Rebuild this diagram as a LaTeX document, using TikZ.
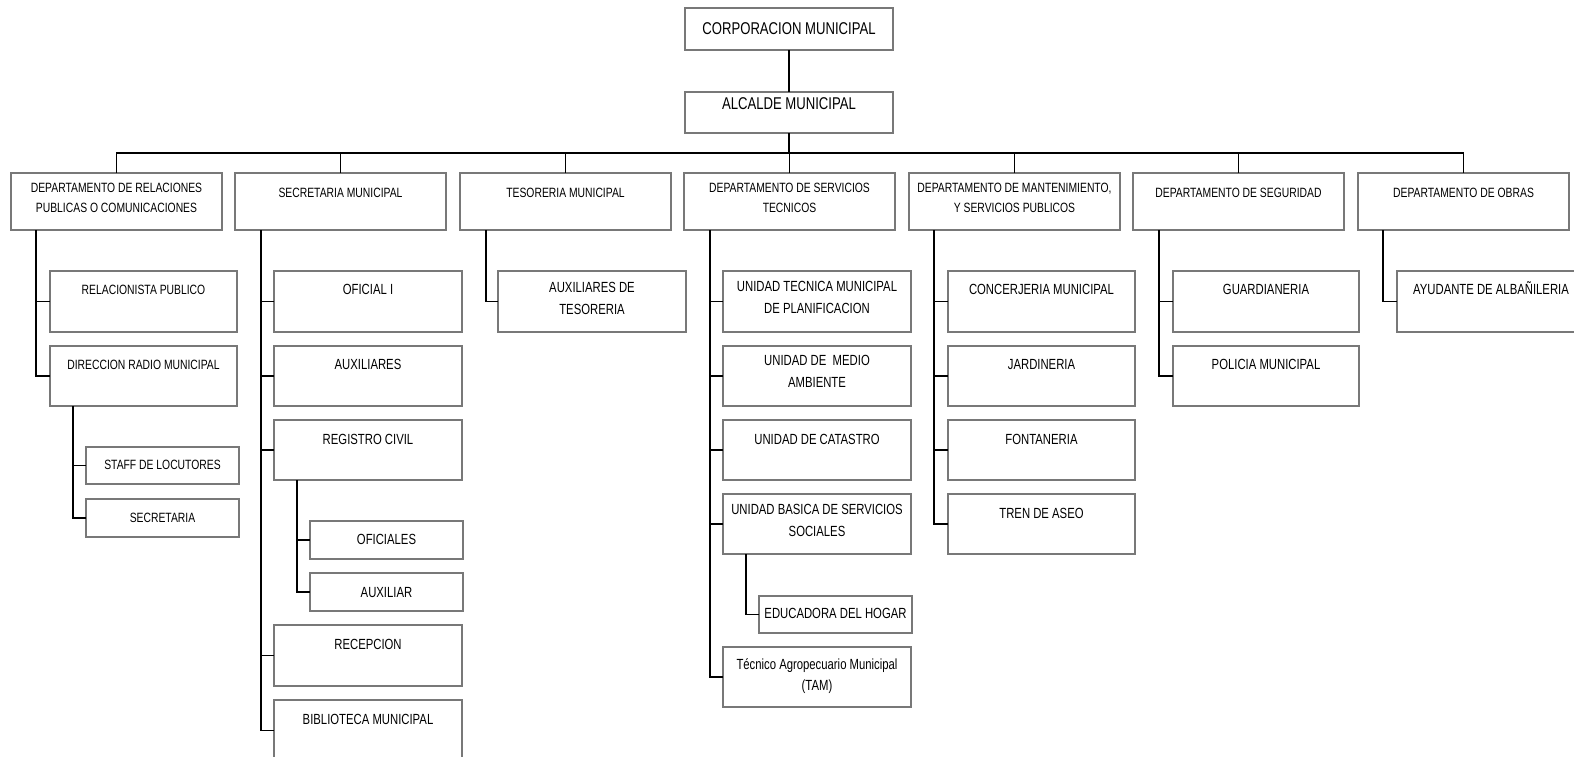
\documentclass[tikz,border=0pt]{standalone}
\usepackage{fontspec}
\setmainfont{Liberation Sans}[FakeStretch=0.77]
\definecolor{boxgray}{RGB}{120,120,120}
\newcommand\fTop{\fontsize{17.1}{20}\selectfont}
\newcommand\fDep{\fontsize{13.5}{20}\selectfont}
\newcommand\fSub{\fontsize{14.75}{21.5}\selectfont}
\tikzset{
  box/.style={draw=boxgray, line width=1.4bp, fill=white, rectangle, inner sep=0pt, outer sep=0pt, anchor=north west},
  conn/.style={draw=black, line width=1.9bp},
  lbl/.style={inner sep=0pt, align=center, anchor=north, text=black, execute at begin node={\rule{0pt}{14bp}}},
}
% \lab{box}{baseline offset from box top}{font}{text}
\newcommand\lab[4]{\node[lbl,font=#3] at ([yshift={(14-#2)*1bp}]#1.north) {#4};}
\newcommand\bx[6]{\node[box, minimum width=#4bp, minimum height=#5bp] (#1) at (#2,#3) {};}
\begin{document}
\begin{tikzpicture}[x=1bp,y=-1bp]
\useasboundingbox (0,0) rectangle (1574,757);
\clip (0,0) rectangle (1574,757);
\fill[white] (0,0) rectangle (1574,757);
\coordinate (bus) at (0,153);

% top
\bx{corp}{685}{8}{208}{42}{}
\bx{alc}{685}{92}{208}{41}{}
\lab{corp}{26.2}{\fTop}{CORPORACION MUNICIPAL}
\lab{alc}{17.7}{\fTop}{ALCALDE MUNICIPAL}

% departments
\bx{d1}{11}{173}{211}{57}{}
\bx{d2}{235}{173}{211}{57}{}
\bx{d3}{460}{173}{211}{57}{}
\bx{d4}{684}{173}{211}{57}{}
\bx{d5}{909}{173}{211}{57}{}
\bx{d6}{1133}{173}{211}{57}{}
\bx{d7}{1358}{173}{211}{57}{}
\lab{d1}{23.9}{\fDep}{DEPARTAMENTO DE RELACIONES\\PUBLICAS O COMUNICACIONES}
\lab{d2}{23.9}{\fDep}{SECRETARIA MUNICIPAL}
\lab{d3}{23.9}{\fDep}{TESORERIA MUNICIPAL}
\lab{d4}{23.9}{\fDep}{DEPARTAMENTO DE SERVICIOS\\TECNICOS}
\lab{d5}{23.9}{\fDep}{DEPARTAMENTO DE MANTENIMIENTO,\\Y SERVICIOS PUBLICOS}
\lab{d6}{23.9}{\fDep}{DEPARTAMENTO DE SEGURIDAD}
\lab{d7}{23.9}{\fDep}{DEPARTAMENTO DE OBRAS}

% dept 1 children
\bx{rp}{50}{271}{187}{61}{}
\bx{drm}{50}{346}{187}{60}{}
\bx{staff}{86}{447}{153}{37}{}
\bx{secr}{86}{499}{153}{38}{}
\lab{rp}{22.9}{\fDep}{RELACIONISTA PUBLICO}
\lab{drm}{22.9}{\fDep}{DIRECCION RADIO MUNICIPAL}
\lab{staff}{21.9}{\fDep}{STAFF DE LOCUTORES}
\lab{secr}{22.9}{\fDep}{SECRETARIA}

% dept 2 children
\bx{of1}{274}{271}{188}{61}{}
\bx{aux}{274}{346}{188}{60}{}
\bx{reg}{274}{420}{188}{60}{}
\bx{ofs}{310}{521}{153}{38}{}
\bx{auxr}{310}{573}{153}{38}{}
\bx{rec}{274}{625}{188}{61}{}
\bx{bib}{274}{700}{188}{61}{}
\lab{of1}{23.3}{\fSub}{OFICIAL I}
\lab{aux}{23.3}{\fSub}{AUXILIARES}
\lab{reg}{24.3}{\fSub}{REGISTRO CIVIL}
\lab{ofs}{23.3}{\fSub}{OFICIALES}
\lab{auxr}{24.3}{\fSub}{AUXILIAR}
\lab{rec}{24.3}{\fSub}{RECEPCION}
\lab{bib}{24.3}{\fSub}{BIBLIOTECA MUNICIPAL}

% dept 3 children
\bx{auxt}{498}{271}{188}{61}{}
\lab{auxt}{25.3}{\fSub}{AUXILIARES DE\\TESORERIA}

% dept 4 children
\bx{utm}{723}{271}{188}{61}{}
\bx{med}{723}{346}{188}{60}{}
\bx{cat}{723}{420}{188}{60}{}
\bx{ubs}{723}{494}{188}{60}{}
\bx{edu}{759}{596}{153}{37}{}
\bx{tam}{723}{647}{188}{60}{}
\lab{utm}{24.3}{\fSub}{UNIDAD TECNICA MUNICIPAL\\DE PLANIFICACION}
\lab{med}{23.3}{\fSub}{UNIDAD DE\ \ MEDIO\\AMBIENTE}
\lab{cat}{24.3}{\fSub}{UNIDAD DE CATASTRO}
\lab{ubs}{24.3}{\fSub}{UNIDAD BASICA DE SERVICIOS\\SOCIALES}
\lab{edu}{22.3}{\fSub}{EDUCADORA DEL HOGAR}
\lab{tam}{25.3}{\fSub}{Técnico Agropecuario Municipal\\(TAM)}

% dept 5 children
\bx{con}{948}{271}{187}{61}{}
\bx{jar}{948}{346}{187}{60}{}
\bx{fon}{948}{420}{187}{60}{}
\bx{tren}{948}{494}{187}{60}{}
\lab{con}{23.3}{\fSub}{CONCERJERIA MUNICIPAL}
\lab{jar}{23.3}{\fSub}{JARDINERIA}
\lab{fon}{24.3}{\fSub}{FONTANERIA}
\lab{tren}{24.3}{\fSub}{TREN DE ASEO}

% dept 6 children
\bx{gua}{1173}{271}{186}{61}{}
\bx{pol}{1173}{346}{186}{60}{}
\lab{gua}{23.3}{\fSub}{GUARDIANERIA}
\lab{pol}{23.3}{\fSub}{POLICIA MUNICIPAL}

% dept 7 children
\bx{ayu}{1397}{271}{188}{61}{}
\lab{ayu}{23.3}{\fSub}{AYUDANTE DE ALBAÑILERIA}

% connectors: top
\draw[conn] (corp.south) -- (alc.north);
\draw[conn] (alc.south) -- (alc.south |- bus);
\draw[conn] (d1.north) -- (d1.north |- bus) -- (d7.north |- bus) -- (d7.north);
\foreach \d in {d2,d3,d4,d5,d6}{\draw[conn] (\d.north) -- (\d.north |- bus);}

% connectors: children
\foreach \c in {rp,drm}{\draw[conn] ([xshift=25bp]d1.south west) |- (\c.west);}
\foreach \c in {staff,secr}{\draw[conn] ([xshift=23bp]drm.south west) |- (\c.west);}
\foreach \c in {of1,aux,reg,rec,bib}{\draw[conn] ([xshift=26bp]d2.south west) |- (\c.west);}
\foreach \c in {ofs,auxr}{\draw[conn] ([xshift=23bp]reg.south west) |- (\c.west);}
\draw[conn] ([xshift=26bp]d3.south west) |- (auxt.west);
\foreach \c in {utm,med,cat,ubs,tam}{\draw[conn] ([xshift=26bp]d4.south west) |- (\c.west);}
\draw[conn] ([xshift=23bp]ubs.south west) |- (edu.west);
\foreach \c in {con,jar,fon,tren}{\draw[conn] ([xshift=25bp]d5.south west) |- (\c.west);}
\foreach \c in {gua,pol}{\draw[conn] ([xshift=26bp]d6.south west) |- (\c.west);}
\draw[conn] ([xshift=25bp]d7.south west) |- (ayu.west);
\end{tikzpicture}
\end{document}
